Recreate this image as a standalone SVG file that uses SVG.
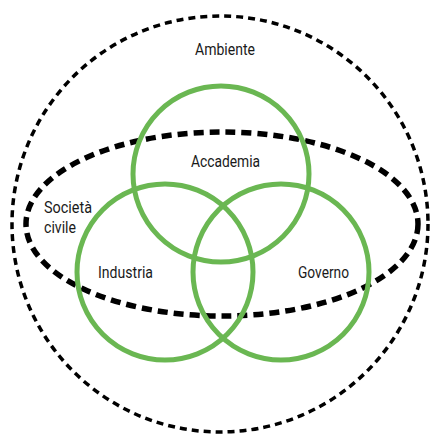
<svg xmlns="http://www.w3.org/2000/svg" width="430" height="434" viewBox="0 0 430 434">
<style>
.lbl{font-family:"Roboto","Liberation Sans",sans-serif;font-size:16px;font-weight:400;fill:#1a1a1a}
.green{fill:none;stroke:#6ab752;stroke-width:5}
</style>
<rect width="430" height="434" fill="#fff"/>
<g id="connectors"></g>
<g id="ambiente">
<circle cx="220" cy="224" r="208" fill="none" stroke="#000" stroke-width="3.5" stroke-dasharray="7 5"/>
<text class="lbl" x="195" y="55" textLength="60" lengthAdjust="spacingAndGlyphs">Ambiente</text>
</g>
<g id="societa">
<ellipse cx="222" cy="224" rx="196" ry="92" fill="none" stroke="#000" stroke-width="5.5" stroke-dasharray="10 6"/>
<text class="lbl" x="44" y="213" textLength="48" lengthAdjust="spacingAndGlyphs">Società</text>
<text class="lbl" x="44" y="233" textLength="32" lengthAdjust="spacingAndGlyphs">civile</text>
</g>
<g id="accademia">
<circle class="green" cx="221" cy="174" r="88"/>
<text class="lbl" x="191" y="167" textLength="69" lengthAdjust="spacingAndGlyphs">Accademia</text>
</g>
<g id="industria">
<circle class="green" cx="165" cy="272" r="88"/>
<text class="lbl" x="98" y="278" textLength="55" lengthAdjust="spacingAndGlyphs">Industria</text>
</g>
<g id="governo">
<circle class="green" cx="281" cy="272" r="88"/>
<text class="lbl" x="298" y="278" textLength="51" lengthAdjust="spacingAndGlyphs">Governo</text>
</g>
</svg>
